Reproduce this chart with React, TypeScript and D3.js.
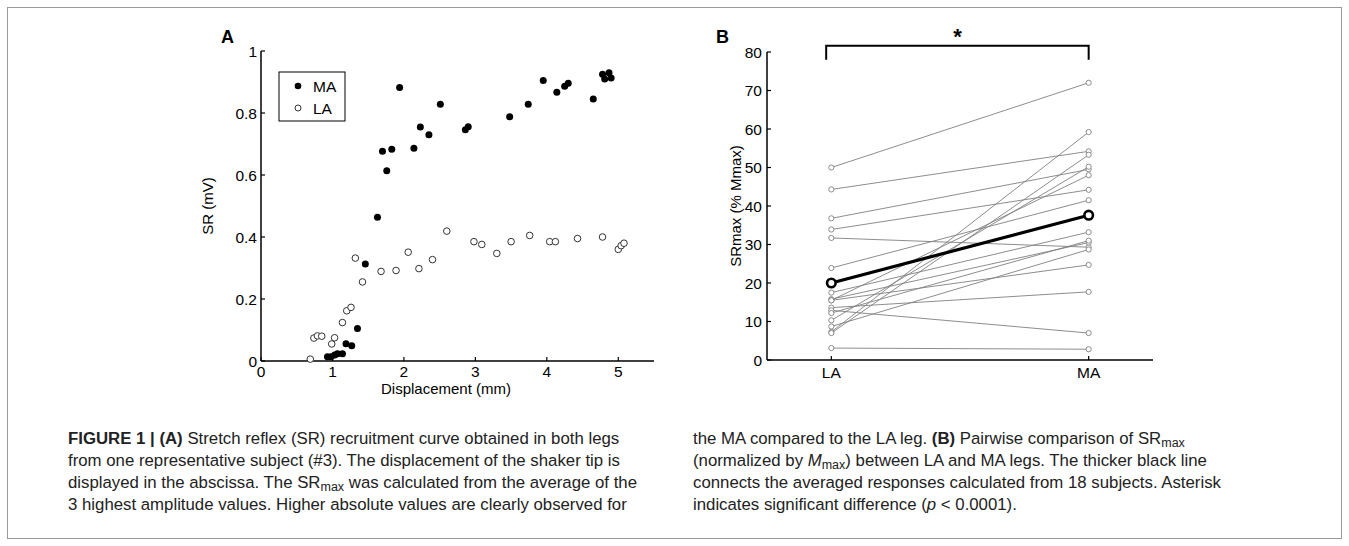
import React from 'react';
import * as d3 from 'd3';

// Panel A: SR recruitment curve, subject #3 [displacement mm, SR mV]
const maPoints: [number, number][] = [
  [0.93, 0.014], [0.98, 0.014], [1.03, 0.019], [1.07, 0.023], [1.14, 0.023],
  [1.19, 0.056], [1.27, 0.049], [1.35, 0.105], [1.46, 0.313], [1.63, 0.464],
  [1.70, 0.677], [1.76, 0.614], [1.83, 0.683], [1.94, 0.882], [2.14, 0.686],
  [2.23, 0.755], [2.35, 0.730], [2.51, 0.828], [2.86, 0.746], [2.90, 0.756],
  [3.48, 0.788], [3.74, 0.828], [3.95, 0.905], [4.14, 0.867], [4.25, 0.886],
  [4.30, 0.896], [4.65, 0.845], [4.78, 0.925], [4.81, 0.910], [4.87, 0.930],
  [4.90, 0.913],
];
const laPoints: [number, number][] = [
  [0.69, 0.006], [0.74, 0.074], [0.79, 0.081], [0.85, 0.080], [0.99, 0.055],
  [1.03, 0.075], [1.14, 0.124], [1.20, 0.162], [1.26, 0.173], [1.32, 0.332],
  [1.42, 0.255], [1.68, 0.289], [1.89, 0.292], [2.06, 0.351], [2.21, 0.298],
  [2.40, 0.327], [2.60, 0.419], [2.98, 0.385], [3.09, 0.376], [3.30, 0.347],
  [3.50, 0.385], [3.76, 0.405], [4.04, 0.385], [4.12, 0.385], [4.43, 0.395],
  [4.78, 0.400], [5.00, 0.360], [5.04, 0.372], [5.08, 0.380],
];
const aXTicks = [0, 1, 2, 3, 4, 5];
const aYTicks = [0, 0.2, 0.4, 0.6, 0.8, 1];

// Panel B: SRmax (% Mmax) per subject, LA vs MA
const legs = ['LA', 'MA'];
const laValues = [50, 44.3, 36.8, 33.9, 31.7, 23.9, 17.5, 15.8, 15.5, 15.5, 13.6, 12.9, 12.2, 10.3, 8.7, 7.3, 7.0, 3.1];
const maValues = [72, 54.2, 49.5, 44.2, 29.3, 41.5, 33.2, 30.5, 24.7, 48, 17.7, 7, 31, 50.2, 28.7, 59.2, 53.3, 2.8];
const bYTicks = [0, 10, 20, 30, 40, 50, 60, 70, 80];

const captionLeft = [
  [['b', 'FIGURE 1 | (A)'], ['n', ' Stretch reflex (SR) recruitment curve obtained in both legs']],
  [['n', 'from one representative subject (#3). The displacement of the shaker tip is']],
  [['n', 'displayed in the abscissa. The SR'], ['s', 'max'], ['n', ' was calculated from the average of the']],
  [['n', '3 highest amplitude values. Higher absolute values are clearly observed for']],
];
const captionRight = [
  [['n', 'the MA compared to the LA leg. '], ['b', '(B)'], ['n', ' Pairwise comparison of SR'], ['s', 'max']],
  [['n', '(normalized by '], ['i', 'M'], ['s', 'max'], ['n', ') between LA and MA legs. The thicker black line']],
  [['n', 'connects the averaged responses calculated from 18 subjects. Asterisk']],
  [['n', 'indicates significant difference ('], ['i', 'p'], ['n', ' < 0.0001).']],
];

const FONT = 'Liberation Sans, Arial, Helvetica, sans-serif';

function CaptionLine({ x, y, parts }: { x: number; y: number; parts: string[][] }) {
  return (
    <text x={x} y={y} fontFamily={FONT} fontSize={16.8} fill="#222">
      {parts.map(([k, t], i) => {
        if (k === 'b') return <tspan key={i} fontWeight="bold">{t}</tspan>;
        if (k === 'i') return <tspan key={i} fontStyle="italic">{t}</tspan>;
        if (k === 's') return <tspan key={i} fontSize={12.5} dy={3}>{t}</tspan>;
        // reset baseline after subscript
        const prev = i > 0 ? parts[i - 1][0] : '';
        return <tspan key={i} dy={prev === 's' ? -3 : 0}>{t}</tspan>;
      })}
    </text>
  );
}

export default function App() {
  // Panel A scales
  const ax = d3.scaleLinear().domain([0, 5.5]).range([261, 654]);
  const ay = d3.scaleLinear().domain([0, 1]).range([361, 51]);
  // Panel B scales
  const bx = d3.scaleLinear().domain([0.75, 2.25]).range([767, 1153]);
  const by = d3.scaleLinear().domain([0, 80]).range([360, 52]);

  const meanLA = d3.mean(laValues) as number;
  const meanMA = d3.mean(maValues) as number;
  const pairLine = d3.line<number>().x((_, i) => bx(i + 1)).y(v => by(v));

  const fmtA = (v: number) => (v === 0 || v === 1 ? String(v) : v.toFixed(1));

  return (
    <svg width={1349} height={546} style={{ position: 'absolute', left: 0, top: 0, background: '#fff' }}>
      <rect x={7.5} y={7.5} width={1334} height={531} fill="#fff" stroke="#9a9a9a" strokeWidth={1} />

      {/* ---------- Panel A ---------- */}
      <text x={221} y={43} fontFamily={FONT} fontWeight="bold" fontSize={18}>A</text>
      <line x1={ax(0)} x2={ax(0)} y1={ay(0)} y2={ay(1)} stroke="#000" strokeWidth={1.5} />
      <line x1={ax(0)} x2={ax(5.5)} y1={ay(0)} y2={ay(0)} stroke="#000" strokeWidth={1.5} />
      {aYTicks.map(t => (
        <g key={t}>
          <line x1={ax(0)} x2={ax(0) + 4} y1={ay(t)} y2={ay(t)} stroke="#000" strokeWidth={1.2} />
          <text x={ax(0) - 4} y={ay(t)} dy="0.36em" textAnchor="end" fontFamily={FONT} fontSize={15.5}>{fmtA(t)}</text>
        </g>
      ))}
      {aXTicks.map(t => (
        <g key={t}>
          <line x1={ax(t)} x2={ax(t)} y1={ay(0)} y2={ay(0) - 4} stroke="#000" strokeWidth={1.2} />
          <text x={ax(t)} y={377} textAnchor="middle" fontFamily={FONT} fontSize={15.5}>{t}</text>
        </g>
      ))}
      <text x={446} y={394} textAnchor="middle" fontFamily={FONT} fontSize={15}>Displacement (mm)</text>
      <text transform={`translate(213,206) rotate(-90)`} textAnchor="middle" fontFamily={FONT} fontSize={15}>SR (mV)</text>

      {laPoints.map(([x, y], i) => (
        <circle key={'la' + i} cx={ax(x)} cy={ay(y)} r={3.3} fill="#fff" stroke="#333" strokeWidth={1} />
      ))}
      {maPoints.map(([x, y], i) => (
        <circle key={'ma' + i} cx={ax(x)} cy={ay(y)} r={3.5} fill="#000" />
      ))}

      {/* legend */}
      <rect x={279} y={72} width={66} height={49} fill="#fff" stroke="#000" strokeWidth={1} />
      <circle cx={298} cy={86} r={3.3} fill="#000" />
      <circle cx={298} cy={108} r={3} fill="#fff" stroke="#333" strokeWidth={1} />
      <text x={313} y={91.5} fontFamily={FONT} fontSize={15.5}>MA</text>
      <text x={313} y={113.5} fontFamily={FONT} fontSize={15.5}>LA</text>

      {/* ---------- Panel B ---------- */}
      <text x={716} y={43} fontFamily={FONT} fontWeight="bold" fontSize={18}>B</text>
      <line x1={bx(0.75)} x2={bx(0.75)} y1={by(0)} y2={by(80)} stroke="#000" strokeWidth={1.5} />
      <line x1={bx(0.75)} x2={bx(2.25)} y1={by(0)} y2={by(0)} stroke="#000" strokeWidth={1.5} />
      {bYTicks.map(t => (
        <g key={t}>
          <line x1={bx(0.75)} x2={bx(0.75) + 4} y1={by(t)} y2={by(t)} stroke="#000" strokeWidth={1.2} />
          <text x={bx(0.75) - 5} y={by(t)} dy="0.36em" textAnchor="end" fontFamily={FONT} fontSize={15.5}>{t}</text>
        </g>
      ))}
      {legs.map((l, i) => (
        <g key={l}>
          <line x1={bx(i + 1)} x2={bx(i + 1)} y1={by(0)} y2={by(0) - 4} stroke="#000" strokeWidth={1.2} />
          <text x={bx(i + 1)} y={378} textAnchor="middle" fontFamily={FONT} fontSize={15.5}>{l}</text>
        </g>
      ))}
      <text transform={`translate(741,206) rotate(-90)`} textAnchor="middle" fontFamily={FONT} fontSize={15}>SRmax (% Mmax)</text>

      {laValues.map((v, i) => (
        <path key={'pl' + i} d={pairLine([v, maValues[i]]) as string} fill="none" stroke="#808080" strokeWidth={0.9} />
      ))}
      {laValues.map((v, i) => (
        <g key={'pc' + i}>
          <circle cx={bx(1)} cy={by(v)} r={2.6} fill="#fff" stroke="#808080" strokeWidth={0.9} />
          <circle cx={bx(2)} cy={by(maValues[i])} r={2.6} fill="#fff" stroke="#808080" strokeWidth={0.9} />
        </g>
      ))}
      <path d={pairLine([meanLA, meanMA]) as string} fill="none" stroke="#000" strokeWidth={3.2} />
      <circle cx={bx(1)} cy={by(meanLA)} r={4.3} fill="#fff" stroke="#000" strokeWidth={2.6} />
      <circle cx={bx(2)} cy={by(meanMA)} r={4.3} fill="#fff" stroke="#000" strokeWidth={2.6} />

      {/* significance bracket */}
      <path
        d={`M${bx(0.98)},${by(78)} V${by(81.6)} H${bx(2)} V${by(78)}`}
        fill="none" stroke="#000" strokeWidth={2} />
      <text x={bx(1.49)} y={44} textAnchor="middle" fontFamily={FONT} fontWeight="bold" fontSize={22}>*</text>

      {/* ---------- Caption ---------- */}
      {captionLeft.map((parts, i) => (
        <CaptionLine key={'cl' + i} x={68} y={444 + i * 22} parts={parts as string[][]} />
      ))}
      {captionRight.map((parts, i) => (
        <CaptionLine key={'cr' + i} x={693} y={444 + i * 22} parts={parts as string[][]} />
      ))}
    </svg>
  );
}
